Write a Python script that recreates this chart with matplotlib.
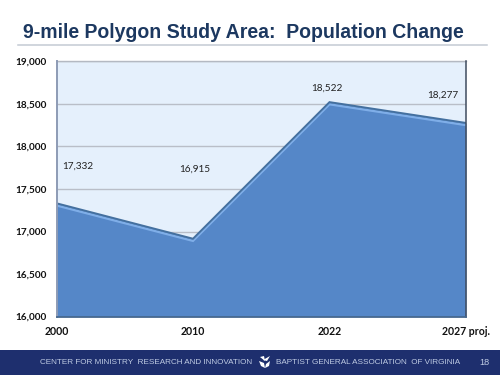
import matplotlib
matplotlib.use("Agg")
import matplotlib.pyplot as plt
from matplotlib.patches import Rectangle, Polygon
from matplotlib.transforms import ScaledTranslation
from matplotlib.ticker import FuncFormatter, FixedLocator

categories = ["2000", "2010", "2022", "2027 proj."]
population = [17332, 16915, 18522, 18277]
value_labels = ["17,332", "16,915", "18,522", "18,277"]
label_positions_y = [17771, 17730, 18682, 18606]
y_ticks = [16000, 16500, 17000, 17500, 18000, 18500, 19000]
title = "9-mile Polygon Study Area:  Population Change"
footer_left = "CENTER FOR MINISTRY  RESEARCH AND INNOVATION"
footer_right = "BAPTIST GENERAL ASSOCIATION  OF VIRGINIA"
page_number = "18"

W, H = 500, 375
fig = plt.figure(figsize=(5, 3.75), dpi=100, facecolor="white")
def fx(x): return x / W
def fy(y): return 1 - y / H

# Title and rule
fig.text(fx(23), fy(37.7), title, family="Liberation Sans", weight="bold", fontsize=14.06,
         color="#1C3860", va="baseline", ha="left")
fig.add_artist(plt.Line2D([fx(18), fx(487)], [fy(44.7), fy(44.7)], color="#C3CAD3", lw=1.1))

# Chart
L, R, T, B = 56.5, 466, 61.5, 316.5
ax = fig.add_axes([fx(L), fy(B), (R - L) / W, (B - T) / H])
ax.set_facecolor("#E5F0FC")
xs = list(range(len(categories)))
ax.set_xlim(0, len(categories) - 1)
ax.set_ylim(16000, 19000)
ax.yaxis.set_major_locator(FixedLocator(y_ticks))
ax.yaxis.set_major_formatter(FuncFormatter(lambda v, p: f"{int(v):,}"))
ax.set_xticks(xs)
ax.set_xticklabels(categories)
ax.grid(axis="y", color="#B9BEC8", lw=1.0, zorder=1)
ax.set_axisbelow(True)
ax.tick_params(length=0)
ax.tick_params(axis="y", pad=7, labelsize=7.2)
ax.tick_params(axis="x", pad=6.8, labelsize=7.6)
for lab in ax.get_xticklabels() + ax.get_yticklabels():
    lab.set_family("Lato")
    lab.set_weight("bold")
    lab.set_color("#111111")
for lab in ax.get_xticklabels():
    lab.set_clip_on(False)

ax.fill_between(xs, population, 16000, color="#5587C8", lw=0, zorder=3)
off = lambda d: ax.transData + ScaledTranslation(0, -d / 100, fig.dpi_scale_trans)
ax.plot(xs, population, color="#7FAEE8", lw=1.6, transform=off(2.2), zorder=4, solid_joinstyle="miter")
ax.plot(xs, population, color="#44709F", lw=1.4, zorder=5, solid_joinstyle="miter")

for s in ax.spines.values():
    s.set_visible(False)
ax.plot([0, 1], [1, 1], transform=ax.transAxes, color="#B4B9C2", lw=1.0, clip_on=False, zorder=6)
ax.plot([0, 0], [0, 1], transform=ax.transAxes, color="#8D9BB5", lw=1.4, clip_on=False, zorder=6)
ax.plot([1, 1], [0, 1], transform=ax.transAxes, color="#3F4C5F", lw=1.1, clip_on=False, zorder=6)
ax.plot([0, 1], [0, 0], transform=ax.transAxes, color="#46688F", lw=1.3, clip_on=False, zorder=6)

offsets_x = [0.157, 0.015, -0.02, -0.168]
for x, dx, y, t in zip(xs, offsets_x, label_positions_y, value_labels):
    ax.text(x + dx, y, t, family="Lato", fontsize=7.2, color="#222222", ha="center", va="center", zorder=7)

# Footer
fig.add_artist(Rectangle((0, 0), 1, (H - 350) / H, transform=fig.transFigure, color="#1E2F6E", lw=0))
fig.text(fx(40), fy(362), footer_left, family="Liberation Sans", fontsize=5.85, color="#BFCBE3", va="center")
fig.text(fx(275.5), fy(362), footer_right, family="Liberation Sans", fontsize=5.87, color="#BFCBE3", va="center")
fig.text(fx(489), fy(362.5), page_number, family="Liberation Sans", fontsize=6.6, color="#BFCBE3", va="center", ha="right")
for pts in ([(260, 357), (264, 356), (265, 361)], [(270, 356), (267, 361), (263, 360)],
            [(259, 361), (264, 363), (265, 368), (261, 366)], [(270, 361), (266, 364), (265, 368), (269, 366)]):
    fig.add_artist(Polygon([(fx(a), fy(b)) for a, b in pts], transform=fig.transFigure, color="white", lw=0))

fig.savefig("out.png", dpi=100)
